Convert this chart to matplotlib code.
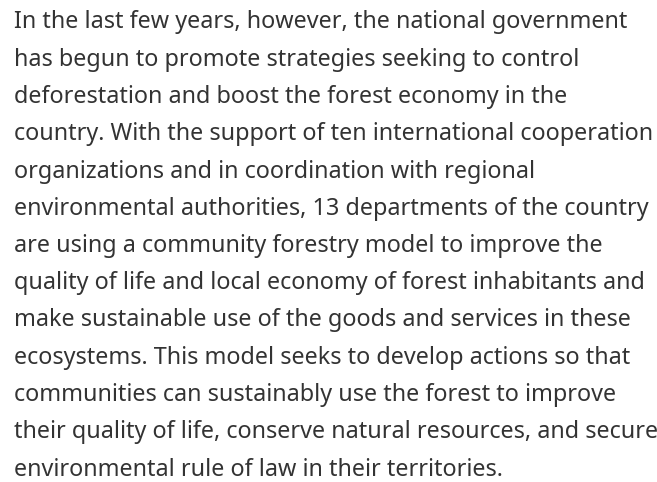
import matplotlib
matplotlib.use("Agg")
import matplotlib.pyplot as plt

lines = [
    "In the last few years, however, the national government",
    "has begun to promote strategies seeking to control",
    "deforestation and boost the forest economy in the",
    "country. With the support of ten international cooperation",
    "organizations and in coordination with regional",
    "environmental authorities, 13 departments of the country",
    "are using a community forestry model to improve the",
    "quality of life and local economy of forest inhabitants and",
    "make sustainable use of the goods and services in these",
    "ecosystems. This model seeks to develop actions so that",
    "communities can sustainably use the forest to improve",
    "their quality of life, conserve natural resources, and secure",
    "environmental rule of law in their territories.",
]

W, H = 657, 482
fig = plt.figure(figsize=(W / 100, H / 100), dpi=100)
fig.patch.set_facecolor("white")

first_baseline = 28.5
pitch = 37.25
left = 14

for i, line in enumerate(lines):
    y = first_baseline + pitch * i
    fig.text(left / W, 1 - y / H, line, ha="left", va="baseline",
             fontsize=16.8, family="Noto Sans", color="#333333")

fig.savefig("out.png", dpi=100)
